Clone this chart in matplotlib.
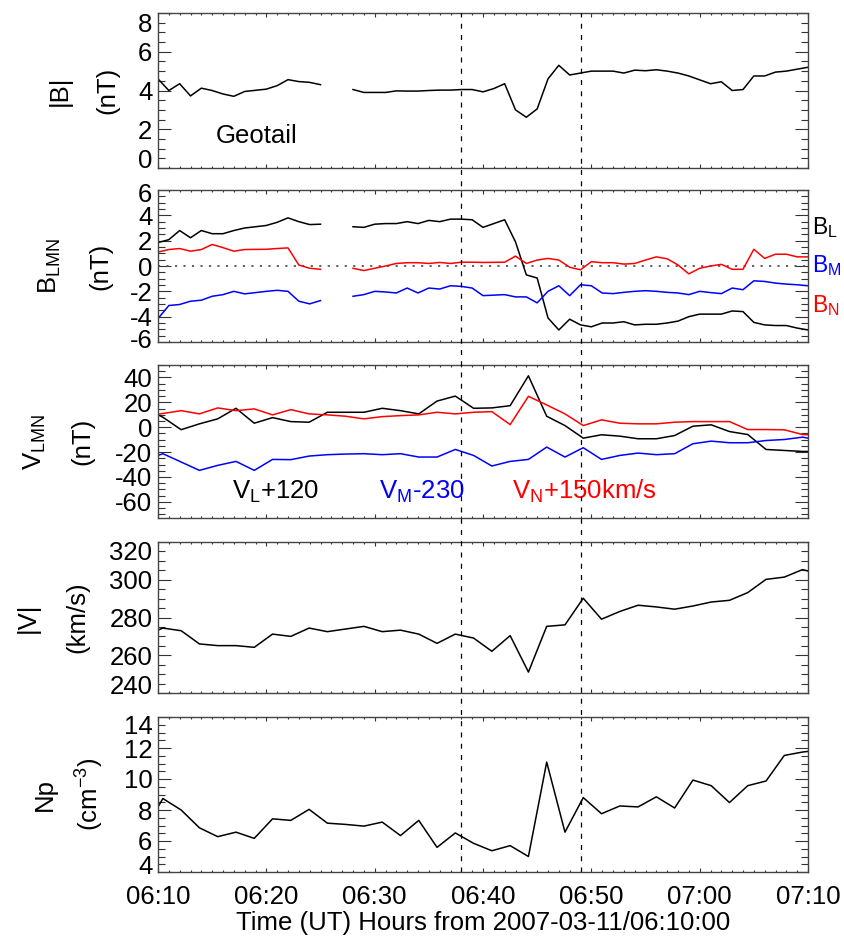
import numpy as np
import matplotlib
matplotlib.use("Agg")
import matplotlib.pyplot as plt
from matplotlib.ticker import MultipleLocator
from matplotlib.transforms import blended_transform_factory, ScaledTranslation

plt.rcParams['font.family'] = ['Liberation Sans', 'DejaVu Sans']
plt.rcParams['mathtext.default'] = 'regular'
plt.rcParams['axes.unicode_minus'] = False

# --- Data (minutes after 06:10 UT) ---
nan = np.nan

# magnetic field, 1-min samples
T_MAG = np.arange(0, 61)
B_TOT = [4.6, 4.0, 4.35, 3.72, 4.12, 4.0, 3.82, 3.7, 3.95, 4.01, 4.07, 4.25, 4.56, 4.46, 4.42, 4.3,
         nan, nan,
         4.05, 3.9, 3.9, 3.9, 3.98, 3.97, 3.97, 4.0, 4.02, 4.02, 4.05, 4.05,
         3.93, 4.1, 4.35, 3.0, 2.62, 3.05, 4.6, 5.3, 4.8, 4.9, 5.0, 5.0, 5.0, 4.9, 5.05, 5.02,
         5.07, 5.0, 4.9, 4.75, 4.55, 4.35, 4.45, 4.0, 4.05, 4.75, 4.75, 4.95, 5.0, 5.1, 5.2]
B_L = [1.85, 2.08, 2.8, 2.23, 2.8, 2.55, 2.55, 2.8, 3.0, 3.1, 3.2, 3.45, 3.8, 3.5, 3.27, 3.3,
       nan, nan,
       3.1, 3.05, 3.3, 3.35, 3.35, 3.5, 3.35, 3.6, 3.5, 3.7, 3.7, 3.65,
       3.05, 3.35, 3.65, 1.9, -0.7, -0.95, -4.1, -5.05, -4.2, -4.65, -4.8, -4.5, -4.5, -4.4,
       -4.65, -4.6, -4.6, -4.5, -4.35, -4.0, -3.8, -3.8, -3.8, -3.55, -3.6, -4.45, -4.65,
       -4.7, -4.7, -4.9, -5.05]
B_M = [-4.15, -3.12, -3.04, -2.78, -2.7, -2.39, -2.26, -2.0, -2.2, -2.1, -2.0, -1.92, -2.0,
       -2.78, -2.99, -2.73,
       nan, nan,
       -2.39, -2.26, -2.0, -2.05, -2.13, -1.74, -2.13, -1.74, -1.82, -1.56, -1.61, -1.74,
       -2.34, -2.3, -2.26, -2.44, -2.44, -2.91, -2.0, -1.56, -2.34, -1.48, -1.56, -2.13, -2.18,
       -2.08, -2.0, -1.95, -2.0, -2.08, -2.13, -2.26, -2.0, -2.1, -2.18, -1.74, -1.87, -1.17,
       -1.22, -1.35, -1.43, -1.48, -1.56]
B_N = [1.1, 1.3, 1.38, 1.17, 1.3, 1.7, 1.45, 1.17, 1.3, 1.31, 1.32, 1.38, 1.43, 0.08, -0.18, -0.26,
       nan, nan,
       -0.18, -0.36, -0.18, 0.0, 0.2, 0.26, 0.26, 0.2, 0.28, 0.2, 0.3, 0.3,
       0.28, 0.29, 0.3, 0.78, 0.2, 0.47, 0.6, 0.47, -0.1, -0.3, 0.34, 0.26, 0.26, 0.15, 0.2,
       0.47, 0.72, 0.57, 0.08, -0.62, -0.18, 0.0, 0.13, -0.26, -0.26, 1.32, 0.6, 0.93, 0.93,
       0.72, 0.72]

# plasma moments (~100 s cadence), with the values at the panel edges
T_PLASMA = np.concatenate(([0.0], np.linspace(0.45, 59.5, 36), [60.0]))
V_L = [10, 8, -2, 2.7, 6.7, 15.2, 3.2, 7.7, 4.5, 4.0, 12, 12, 12, 15.2, 13.3, 10.7, 21, 25,
       15.2, 15.5, 17.3, 41.3, 8.8, 1.3, -8.8, -6.1, -7.2, -9.3, -9.3, -6.7, 0.8, 1.9, -3.5,
       -5.9, -17.9, -18.7, -19.5, -19.5]
V_M = [-22.7, -21.3, -28, -34.7, -30.7, -27.5, -34.7, -25.9, -26.1, -23.2, -22.1, -21.6, -21.3,
       -22.1, -21.3, -24, -24, -17.9, -22.7, -31.2, -27.5, -25.9, -16, -24, -16.5, -25.9, -22.7,
       -20.8, -22.1, -21.3, -13.3, -11.2, -12.5, -12.5, -10.7, -9.9, -8, -8.8]
V_N = [10.5, 11, 13.3, 10.7, 15.5, 13.3, 14.7, 9.9, 14.1, 10.7, 9.9, 8.8, 6.7, 8.5, 9.3, 9.9,
       12, 10.7, 12, 12.5, 2.1, 24.8, 17.9, 10.7, 1.3, 5.9, 3.2, 2.7, 2.7, 4.0, 4.5, 4.5, 4.5,
       -1.9, -1.9, -2.1, -5.9, -6.1]
V_TOT = [273.3, 274.4, 273.0, 266.0, 265.1, 265.1, 264.2, 271.2, 270.0, 274.4, 272.5, 273.9,
         275.3, 272.5, 273.3, 271.2, 266.3, 271.2, 269.1, 262.1, 270.4, 251.1, 275.3, 276.1,
         290.2, 279.1, 283.2, 286.5, 285.6, 284.4, 286.1, 288.2, 289.1, 293.2, 300.2, 301.4,
         305.4, 304.6]
NP = [8.2, 8.74, 8.0, 6.85, 6.28, 6.57, 6.17, 7.43, 7.33, 8.04, 7.15, 7.07, 6.96, 7.22, 6.35,
      7.33, 5.59, 6.52, 5.85, 5.37, 5.7, 5.0, 11.09, 6.57, 8.8, 7.76, 8.26, 8.2, 8.85, 8.13,
      9.93, 9.57, 8.48, 9.57, 9.87, 11.52, 11.74, 11.78]

EVENT_TIMES = [28, 39]          # 06:38 and 06:49
XTICK_LABELS = ['06:10', '06:20', '06:30', '06:40', '06:50', '07:00', '07:10']

# --- Layout (pixels of a 844x941 figure) ---
W, H = 844, 941
LEFT, RIGHT = 158, 808
PANELS = [(13, 168), (190, 342), (365, 518), (542, 693), (717, 872)]
FS = 18.5

fig = plt.figure(figsize=(W / 100, H / 100), dpi=100)
axes = []
for top, bot in PANELS:
    ax = fig.add_axes([LEFT / W, 1 - bot / H, (RIGHT - LEFT) / W, (bot - top) / H])
    axes.append(ax)

ylims = [(0, 8), (-6, 6), (-73, 50), (240, 320), (4, 14)]
yticks = [np.arange(0, 8.1, 2), np.arange(-6, 6.1, 2), np.arange(-60, 41, 20),
          np.arange(240, 321, 20), np.arange(4, 14.1, 2)]
ymin = [0.5, 0.5, 5, 5, 0.5]
# how far (px) the labels sitting on the frame are pushed inside, IDL-like
edge_shift = [10, 3, 0, 8, 7]

for i, ax in enumerate(axes):
    ax.set_xlim(0, 60)
    ax.set_ylim(*ylims[i])
    ax.xaxis.set_major_locator(MultipleLocator(10))
    ax.xaxis.set_minor_locator(MultipleLocator(1))
    ax.set_yticks(yticks[i])
    ax.set_yticklabels(['%g' % v for v in yticks[i]])
    ax.yaxis.set_minor_locator(MultipleLocator(ymin[i]))
    ax.tick_params(which='both', direction='in', top=True, right=True,
                   labelsize=FS, colors='#333333', labelcolor='black', width=0.8)
    ax.tick_params(axis='y', which='major', length=9.5, pad=4)
    ax.tick_params(axis='y', which='minor', length=4.7)
    ax.tick_params(axis='x', which='major', length=3, pad=9)
    ax.tick_params(axis='x', which='minor', length=1.5)
    for sp in ax.spines.values():
        sp.set_color('#444444')
        sp.set_linewidth(1.0)
    labs = ax.get_yticklabels()
    d = edge_shift[i] / 100.0
    if yticks[i][0] == ylims[i][0]:
        labs[0].set_transform(labs[0].get_transform()
                              + ScaledTranslation(0, d, fig.dpi_scale_trans))
    if yticks[i][-1] == ylims[i][1]:
        labs[-1].set_transform(labs[-1].get_transform()
                               + ScaledTranslation(0, -d, fig.dpi_scale_trans))
    if i < 4:
        ax.set_xticklabels([])

lw = 1.1
axes[0].plot(T_MAG, B_TOT, color='black', lw=lw)
axes[0].text(5.3, 1.65, 'Geotail', fontsize=FS, va='center', ha='left')

axes[1].axhline(0, color='#555555', lw=1.3, linestyle=(0, (1.2, 3.5)))
axes[1].plot(T_MAG, B_L, color='black', lw=lw)
axes[1].plot(T_MAG, B_M, color='#0000ff', lw=lw)
axes[1].plot(T_MAG, B_N, color='#ff0000', lw=lw)
for lab, yf, col in [('$B_L$', 0.75, 'black'), ('$B_M$', 0.5, '#0000ff'),
                     ('$B_N$', 0.237, '#ff0000')]:
    axes[1].text(1.006, yf, lab, transform=axes[1].transAxes, fontsize=16.5,
                 color=col, ha='left', va='center')

axes[2].plot(T_PLASMA, V_L, color='black', lw=lw)
axes[2].plot(T_PLASMA, V_M, color='#0000ff', lw=lw)
axes[2].plot(T_PLASMA, V_N, color='#ff0000', lw=lw)
axes[2].text(6.8, -52, '$V_L$+120', fontsize=FS, color='black', va='center')
axes[2].text(20.4, -52, '$V_M$-230', fontsize=FS, color='#0000ff', va='center')
axes[2].text(32.7, -52, '$V_N$+150km/s', fontsize=FS, color='#ff0000', va='center')

axes[3].plot(T_PLASMA, V_TOT, color='black', lw=lw)
axes[4].plot(T_PLASMA, NP, color='black', lw=lw)

axes[4].set_xticks(np.arange(0, 61, 10))
axes[4].set_xticklabels(XTICK_LABELS)
axes[4].set_xlabel('Time (UT) Hours from 2007-03-11/06:10:00', fontsize=FS, labelpad=2)

# y labels, two rotated lines per panel
ylabels = [('|B|', '(nT)', 60, 107),
           ('$B_{LMN}$', '(nT)', 50, 100),
           ('$V_{LMN}$', '(nT)', 35, 82),
           ('|V|', '(km/s)', 28, 77),
           ('Np', '(cm$^{-3}$)', 45, 90)]
for (l1, l2, x1, x2), (top, bot) in zip(ylabels, PANELS):
    yc = 1 - (top + bot) / 2 / H
    fig.text(x1 / W, yc, l1, rotation=90, ha='center', va='center', fontsize=FS)
    fig.text(x2 / W, yc, l2, rotation=90, ha='center', va='center', fontsize=FS)

# event lines through all panels
trans = blended_transform_factory(axes[4].transData, fig.transFigure)
for te in EVENT_TIMES:
    axes[4].plot([te, te], [1 - PANELS[-1][1] / H, 1 - PANELS[0][0] / H],
                 transform=trans, color='black', lw=0.9,
                 linestyle=(0, (4, 5)), clip_on=False)

fig.savefig('out.png', dpi=100)
